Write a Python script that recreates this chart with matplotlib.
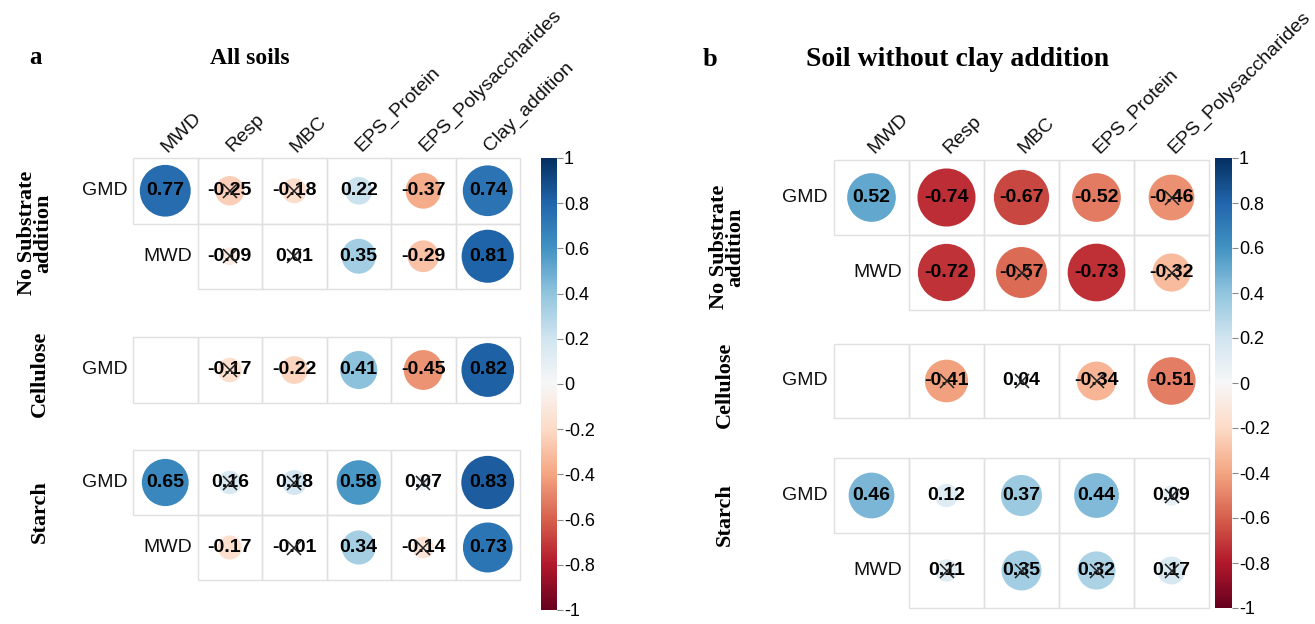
import numpy as np
import matplotlib
matplotlib.use("Agg")
import matplotlib.pyplot as plt
from matplotlib.patches import Ellipse, Rectangle
from matplotlib.colors import Normalize
from matplotlib import cm

plt.rcParams['axes.unicode_minus'] = False

# ---------------- data ----------------
cols_a = ["MWD", "Resp", "MBC", "EPS_Protein", "EPS_Polysaccharides", "Clay_addition"]
cols_b = ["MWD", "Resp", "MBC", "EPS_Protein", "EPS_Polysaccharides"]
row_names_two = ["GMD", "MWD"]
row_names_one = ["GMD"]

# panel a (All soils)
a_nosub_gmd = [0.77, -0.25, -0.18, 0.22, -0.37, 0.74]
a_nosub_mwd = [None, -0.09, 0.01, 0.35, -0.29, 0.81]
a_cell_gmd = [None, -0.17, -0.22, 0.41, -0.45, 0.82]
a_starch_gmd = [0.65, 0.16, 0.18, 0.58, 0.07, 0.83]
a_starch_mwd = [None, -0.17, -0.01, 0.34, -0.14, 0.73]
# non-significant marks (cross)
a_nosub_gmd_ns = [0, 1, 1, 0, 0, 0]
a_nosub_mwd_ns = [0, 1, 1, 0, 0, 0]
a_cell_gmd_ns = [0, 1, 0, 0, 0, 0]
a_starch_gmd_ns = [0, 1, 1, 0, 1, 0]
a_starch_mwd_ns = [0, 0, 1, 0, 1, 0]

# panel b (Soil without clay addition)
b_nosub_gmd = [0.52, -0.74, -0.67, -0.52, -0.46]
b_nosub_mwd = [None, -0.72, -0.57, -0.73, -0.32]
b_cell_gmd = [None, -0.41, 0.04, -0.34, -0.51]
b_starch_gmd = [0.46, 0.12, 0.37, 0.44, 0.09]
b_starch_mwd = [None, 0.11, 0.35, 0.32, 0.17]
b_nosub_gmd_ns = [0, 0, 0, 0, 1]
b_nosub_mwd_ns = [0, 0, 1, 0, 1]
b_cell_gmd_ns = [0, 1, 1, 1, 0]
b_starch_gmd_ns = [0, 0, 0, 0, 1]
b_starch_mwd_ns = [0, 1, 1, 1, 1]

group_labels = ["No Substrate\naddition", "Cellulose", "Starch"]
cbar_ticks = [1, 0.8, 0.6, 0.4, 0.2, 0, -0.2, -0.4, -0.6, -0.8, -1]
cbar_ticklabels = ["1", "0.8", "0.6", "0.4", "0.2", "0", "-0.2", "-0.4", "-0.6", "-0.8", "-1"]

# ---------------- layout ----------------
W, H = 1315, 624
fig = plt.figure(figsize=(W / 100, H / 100), dpi=100)
cmap = plt.get_cmap("RdBu")
norm = Normalize(-1, 1)

SANS = ["Liberation Sans", "DejaVu Sans"]
SERIF = ["Liberation Serif", "DejaVu Serif"]


def px_axes(x0, y0, x1, y1):
    return fig.add_axes([x0 / W, 1 - y1 / H, (x1 - x0) / W, (y1 - y0) / H])


def fmt(v):
    return f"{v:.2f}"


def draw_block(box, cols, names, rows, ns_rows, show_cols=False):
    x0, y0, x1, y1 = box
    ax = px_axes(x0, y0, x1, y1)
    nc = len(cols)
    nr = len(names)
    ax.set_xlim(0, nc)
    ax.set_ylim(nr, 0)
    ax.axis("off")
    for r, (name, vals, ns) in enumerate(zip(names, rows, ns_rows)):
        start = 1 if name == "MWD" else 0
        for c in range(start, nc):
            ax.add_patch(Rectangle((c, r), 1, 1, facecolor="none",
                                   edgecolor="#e0e0e0", lw=1.0, zorder=1,
                                   clip_on=False))
            v = vals[c]
            if v is None:
                continue
            d = 0.9 * np.sqrt(abs(v))
            ax.add_patch(Ellipse((c + 0.5, r + 0.5), d, d,
                                 facecolor=cmap(norm(v)), edgecolor="none",
                                 zorder=2))
            ax.text(c + 0.5, r + 0.5, fmt(v), ha="center", va="center",
                    fontsize=14, fontweight="bold", family=SANS,
                    color="black", zorder=4)
            if ns[c]:
                ax.plot(c + 0.5, r + 0.5, marker="x", ms=9.5, mew=1.1,
                        color="#222222", zorder=5)
        ax.text(start - 0.09, r + 0.5, name, ha="right", va="center",
                fontsize=14, family=SANS, color="#111111")
    if show_cols:
        for c, lab in enumerate(cols):
            ax.text(c + 0.58, -0.04, lab, rotation=45, rotation_mode="anchor",
                    ha="left", va="bottom", fontsize=14, family=SANS,
                    color="#111111")
    return ax


def draw_cbar(box):
    x0, y0, x1, y1 = box
    cax = px_axes(x0, y0, x1, y1)
    sm = cm.ScalarMappable(norm=norm, cmap=cmap)
    cb = fig.colorbar(sm, cax=cax, orientation="vertical")
    cb.outline.set_visible(False)
    cb.set_ticks(cbar_ticks)
    cb.set_ticklabels(cbar_ticklabels)
    cax.tick_params(axis="y", length=4, width=0.8, color="#888888",
                    labelsize=13, pad=1)
    for t in cax.get_yticklabels():
        t.set_family(SANS)
    return cb


# panel a
draw_block((133, 158, 520, 289), cols_a, row_names_two,
           [a_nosub_gmd, a_nosub_mwd], [a_nosub_gmd_ns, a_nosub_mwd_ns],
           show_cols=True)
draw_block((133, 337, 520, 403), cols_a, row_names_one,
           [a_cell_gmd], [a_cell_gmd_ns])
draw_block((133, 450, 520, 580), cols_a, row_names_two,
           [a_starch_gmd, a_starch_mwd], [a_starch_gmd_ns, a_starch_mwd_ns])
draw_cbar((541, 158, 557, 610))

# panel b
draw_block((834, 160, 1209, 310), cols_b, row_names_two,
           [b_nosub_gmd, b_nosub_mwd], [b_nosub_gmd_ns, b_nosub_mwd_ns],
           show_cols=True)
draw_block((834, 344, 1209, 418), cols_b, row_names_one,
           [b_cell_gmd], [b_cell_gmd_ns])
draw_block((834, 458, 1209, 608), cols_b, row_names_two,
           [b_starch_gmd, b_starch_mwd], [b_starch_gmd_ns, b_starch_mwd_ns])
draw_cbar((1215, 158, 1232, 608))

# group labels
for (x, y), lab in zip([(35, 233), (40, 374), (40, 512)], group_labels):
    fig.text(x / W, 1 - y / H, lab, rotation=90, ha="center", va="center",
             fontsize=16, fontweight="bold", family=SERIF, linespacing=0.75)
for (x, y), lab in zip([(727, 247), (725, 385), (725, 515)], group_labels):
    fig.text(x / W, 1 - y / H, lab, rotation=90, ha="center", va="center",
             fontsize=16, fontweight="bold", family=SERIF, linespacing=0.75)

# panel letters and titles
fig.text(35 / W, 1 - 58 / H, "a", ha="center", va="center", fontsize=18,
         fontweight="bold", family=SERIF)
fig.text(250 / W, 1 - 59 / H, "All soils", ha="center", va="center",
         fontsize=17, fontweight="bold", family=SERIF)
fig.text(710 / W, 1 - 60 / H, "b", ha="center", va="center", fontsize=19,
         fontweight="bold", family=SERIF)
fig.text(958 / W, 1 - 60 / H, "Soil without clay addition", ha="center",
         va="center", fontsize=20, fontweight="bold", family=SERIF)

fig.savefig("out.png", dpi=100, facecolor="white")
